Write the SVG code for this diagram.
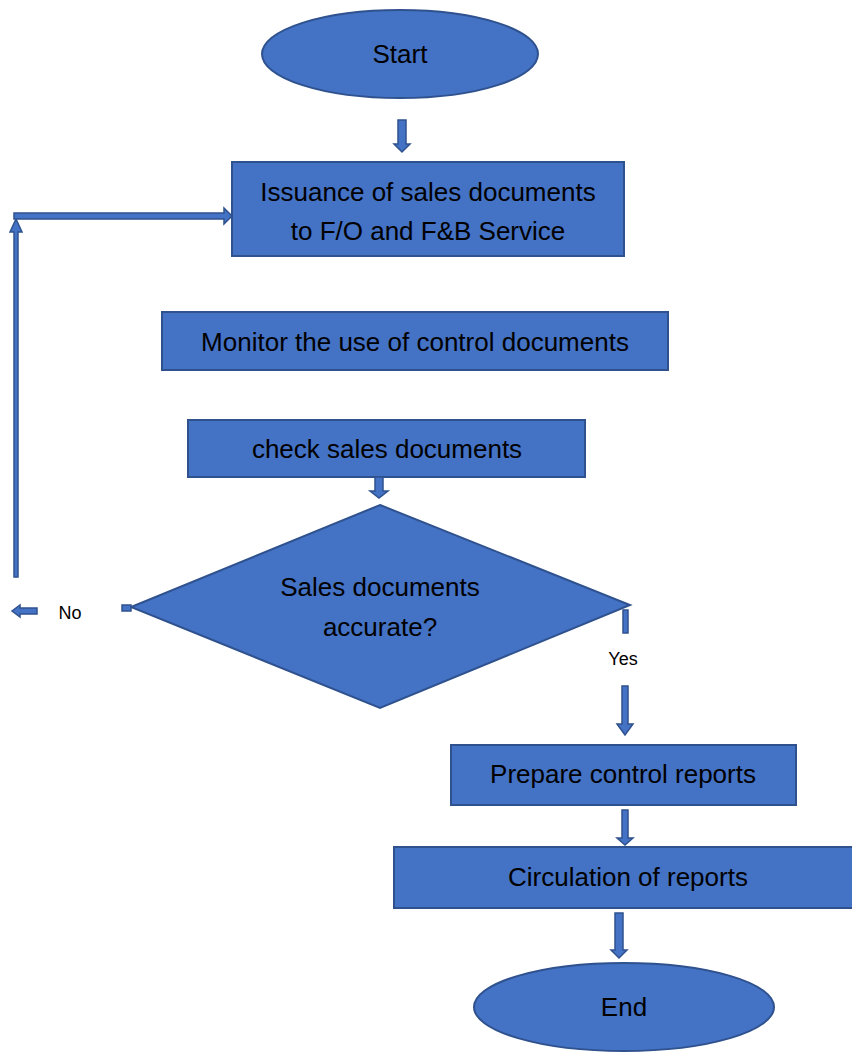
<svg xmlns="http://www.w3.org/2000/svg" width="852" height="1059" viewBox="0 0 852 1059">
<style>
.n{fill:#4472C4;stroke:#2F528F;stroke-width:2}
.a{fill:#4472C4;stroke:#2F528F;stroke-width:1.5}
.t{font-family:"Liberation Sans",Arial,sans-serif;font-size:26px;fill:#000;text-anchor:middle}
.s{font-family:"Liberation Sans",Arial,sans-serif;font-size:18px;fill:#000;text-anchor:middle}
</style>
<rect width="852" height="1059" fill="#fff"/>
<g id="start"><ellipse class="n" cx="400" cy="54" rx="138" ry="44"/><text class="t" x="400" y="63">Start</text></g>
<g id="issuance"><rect class="n" x="232" y="162" width="392" height="94"/><text class="t" x="428" y="201">Issuance of sales documents</text><text class="t" x="428" y="240">to F/O and F&amp;B Service</text></g>
<g id="monitor"><rect class="n" x="162" y="312" width="506" height="58"/><text class="t" x="415" y="351">Monitor the use of control documents</text></g>
<g id="check"><rect class="n" x="188" y="420" width="397" height="57"/><text class="t" x="387" y="458">check sales documents</text></g>
<g id="decision"><polygon class="n" points="380,505 630,605 380,708 131,607"/><text class="t" x="380" y="596">Sales documents</text><text class="t" x="380" y="636">accurate?</text></g>
<g id="prepare"><rect class="n" x="451" y="745" width="345" height="60"/><text class="t" x="623" y="783">Prepare control reports</text></g>
<g id="circulation"><rect class="n" x="394" y="847" width="462" height="61"/><text class="t" x="628" y="886">Circulation of reports</text></g>
<g id="end"><ellipse class="n" cx="624" cy="1007" rx="150" ry="44"/><text class="t" x="624" y="1016">End</text></g>
<g id="connectors">
<polygon class="a" points="398,120 406,120 406,144 410,144 402,152 394,144 398,144"/>
<polygon class="a" points="375,477 383,477 383,491 388,491 379,498 370,491 375,491"/>
<rect class="a" x="122" y="605" width="9" height="6"/>
<polygon class="a" points="37,608 37,614 20,614 20,617 12,611 20,605 20,608"/>
<text class="s" x="70" y="619">No</text>
<polygon class="a" points="14,577 14,232 10,232 16,219 22,232 18,232 18,577"/>
<polygon class="a" points="14,213 224,213 224,208 232,216 224,224 224,219 14,219"/>
<rect class="a" x="623" y="610" width="5" height="23"/>
<text class="s" x="623" y="665">Yes</text>
<polygon class="a" points="622,686 628,686 628,724 633,724 625,735 617,724 622,724"/>
<polygon class="a" points="622,810 628,810 628,838 633,838 625,845 617,838 622,838"/>
<polygon class="a" points="615,913 623,913 623,950 627,950 619,958 611,950 615,950"/>
</g>
</svg>
